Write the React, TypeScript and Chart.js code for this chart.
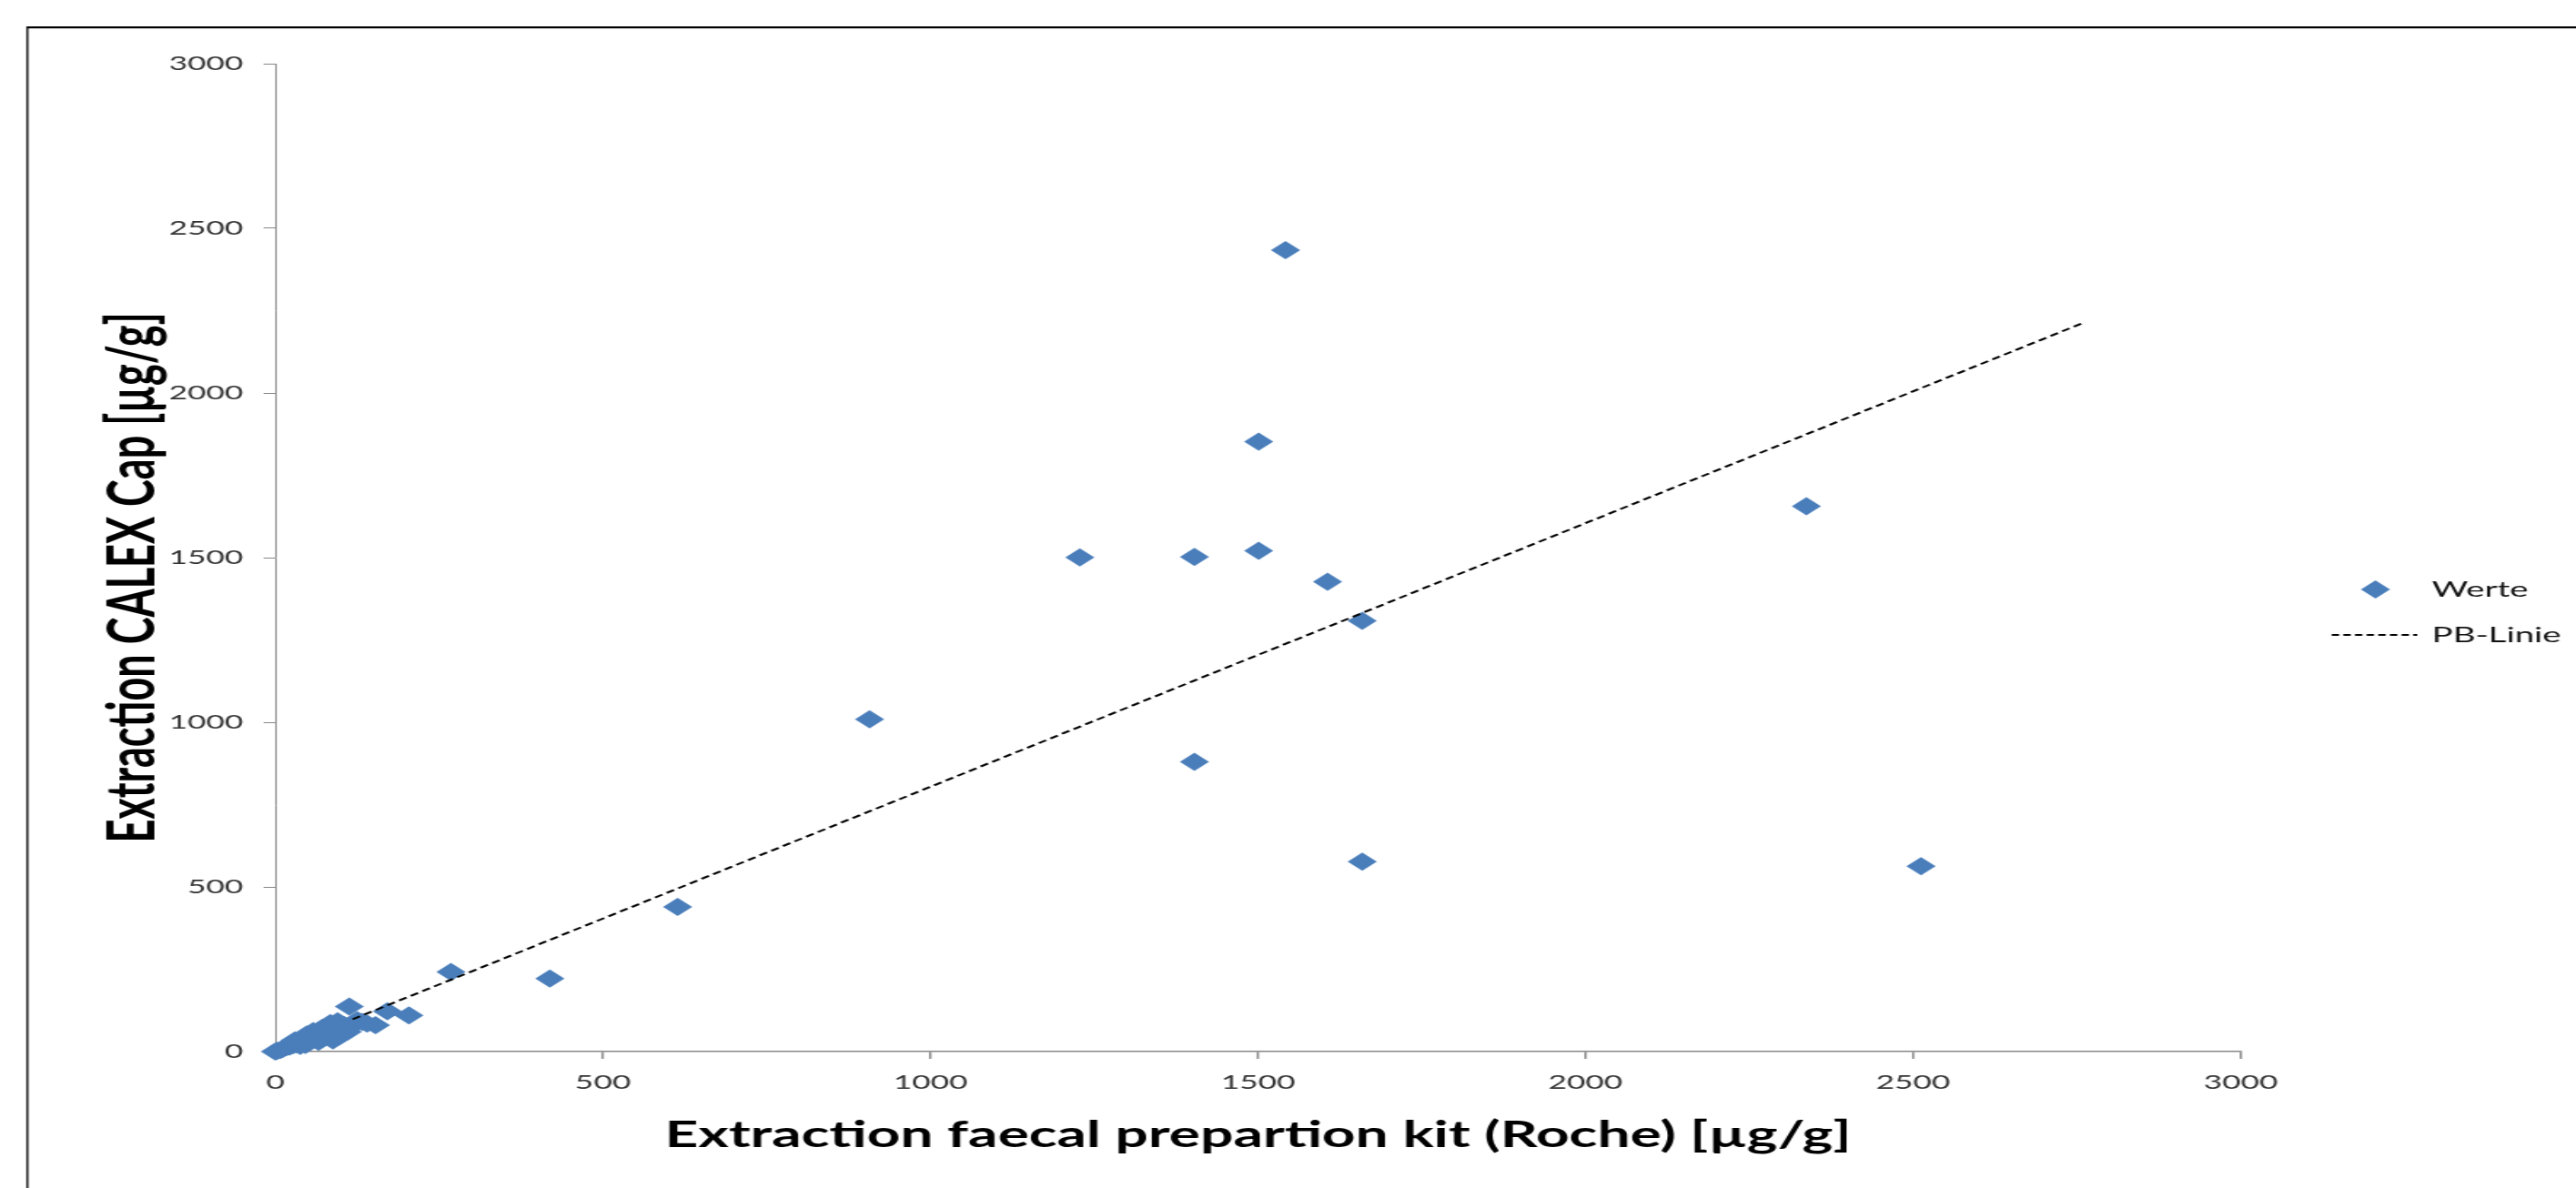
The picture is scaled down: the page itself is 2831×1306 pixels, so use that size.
import React, { useEffect, useRef } from "react";
import { Chart, registerables } from "chart.js";

Chart.register(...registerables);

// ---------- data ----------
const seriesNames = ["Werte", "PB-Linie"];
const xTitle = "Extraction faecal prepartion kit (Roche) [µg/g]";
const yTitle = "Extraction CALEX Cap [µg/g]";
const xTicks = [0, 500, 1000, 1500, 2000, 2500, 3000];
const yTicks = [0, 500, 1000, 1500, 2000, 2500, 3000];

const werteX = [
  1542, 1501, 1501, 1228, 1403, 1606, 1659, 2337, 907, 1403, 1659, 2512, 614, 419, 268,
  0, 3, 8, 12, 17, 22, 27, 32, 38, 40, 45, 50, 55, 60, 65, 70, 74, 78, 80, 85, 88, 90,
  95, 100, 105, 110, 113, 120, 125, 133, 140, 153, 171, 204,
  30, 48, 46, 66, 72, 98, 58, 84,
];
const werteY = [
  2434, 1852, 1521, 1501, 1502, 1427, 1308, 1656, 1009, 880, 577, 563, 439, 222, 242,
  0, 2, 5, 9, 13, 15, 19, 22, 17, 28, 32, 38, 40, 45, 50, 55, 58, 48, 65, 62, 34, 75,
  92, 70, 80, 60, 137, 82, 95, 90, 85, 80, 122, 110,
  34, 52, 20, 30, 72, 46, 62, 86,
];
const pbX = [118, 2761];
const pbY = [98, 2214];

// ---------- layout (the reference picture is stretched horizontally) ----------
const VIEW_W = 2831;
const VIEW_H = 1306;
const STRETCH = 1.6;
const W = Math.round(VIEW_W / STRETCH);
const H = VIEW_H;

const BLUE = "#4A7EBB";
const AXIS = "#868686";
const FONT = "Lato, 'Open Sans', sans-serif";

const framePlugin = {
  id: "excelFrame",
  beforeDraw(chart: any) {
    const ctx = chart.ctx;
    ctx.save();
    ctx.fillStyle = "#ffffff";
    ctx.fillRect(0, 0, chart.width, chart.height);
    ctx.fillStyle = "#000000";
    const fx = 30 / STRETCH;
    const fy = 30;
    ctx.fillRect(fx, fy - 1, chart.width - fx, 2.2);
    ctx.fillRect(fx - 0.6, fy - 1, 1.3, chart.height - fy + 1);
    ctx.restore();
  },
};

const yTitlePlugin = {
  id: "excelYTitle",
  afterDraw(chart: any) {
    const ctx = chart.ctx;
    const area = chart.chartArea;
    ctx.save();
    ctx.translate(147 / STRETCH, (area.top + area.bottom) / 2 + 22);
    ctx.rotate(-Math.PI / 2);
    ctx.fillStyle = "#000000";
    ctx.font = `bold 45px ${FONT}`;
    ctx.textAlign = "center";
    ctx.textBaseline = "middle";
    ctx.fillText(yTitle, 0, 0);
    ctx.restore();
  },
};

const legendPlugin = {
  id: "excelLegend",
  afterDraw(chart: any) {
    const ctx = chart.ctx;
    const ds0 = chart.data.datasets[0];
    const ds1 = chart.data.datasets[1];
    const textX = 2672 / STRETCH;
    const y0 = 648;
    const y1 = 698;
    ctx.save();
    // marker
    const cx = 2610 / STRETCH;
    const r = 10;
    ctx.fillStyle = ds0.backgroundColor;
    ctx.beginPath();
    ctx.moveTo(cx, y0 - r);
    ctx.lineTo(cx + r, y0);
    ctx.lineTo(cx, y0 + r);
    ctx.lineTo(cx - r, y0);
    ctx.closePath();
    ctx.fill();
    // line
    ctx.strokeStyle = ds1.borderColor;
    ctx.lineWidth = 2;
    ctx.setLineDash([5, 3]);
    ctx.beginPath();
    ctx.moveTo(2562 / STRETCH, y1);
    ctx.lineTo(2656 / STRETCH, y1);
    ctx.stroke();
    ctx.setLineDash([]);
    // text
    ctx.fillStyle = "#111111";
    ctx.font = `24px ${FONT}`;
    ctx.textBaseline = "middle";
    ctx.textAlign = "left";
    ctx.fillText(ds0.label, textX, y0);
    ctx.fillText(ds1.label, textX, y1);
    ctx.restore();
  },
};

export default function App() {
  const canvasRef = useRef<HTMLCanvasElement | null>(null);

  useEffect(() => {
    const canvas = canvasRef.current;
    if (!canvas) return;
    const chart = new Chart(canvas, {
      type: "scatter",
      data: {
        datasets: [
          {
            type: "scatter",
            label: seriesNames[0],
            data: werteX.map((x, i) => ({ x, y: werteY[i] })),
            pointStyle: "rectRot",
            pointRadius: 10,
            pointHoverRadius: 10,
            backgroundColor: BLUE,
            borderColor: BLUE,
            borderWidth: 0,
            clip: false,
            order: 1,
          } as any,
          {
            type: "line",
            label: seriesNames[1],
            data: pbX.map((x, i) => ({ x, y: pbY[i] })),
            borderColor: "#000000",
            backgroundColor: "#000000",
            borderWidth: 2,
            borderDash: [6, 3.5],
            pointRadius: 0,
            fill: false,
            showLine: true,
            order: 0,
          } as any,
        ],
      },
      options: {
        animation: false,
        responsive: false,
        maintainAspectRatio: false,
        devicePixelRatio: 1,
        layout: { padding: { left: 0, right: W - 2462 / STRETCH, top: 70, bottom: 0 } },
        plugins: {
          legend: { display: false },
          tooltip: { enabled: false },
        },
        scales: {
          x: {
            type: "linear",
            min: 0,
            max: 3000,
            afterBuildTicks: (s: any) => {
              s.ticks = xTicks.map((v) => ({ value: v }));
            },
            afterFit: (s: any) => {
              s.height = H - 1156;
            },
            ticks: {
              callback: (v: any) => String(v),
              color: "#333333",
              font: { family: FONT, size: 22 },
              padding: 13,
              maxRotation: 0,
            },
            grid: {
              display: true,
              drawOnChartArea: false,
              drawTicks: true,
              tickLength: 8,
              color: AXIS,
              lineWidth: 1.5,
            },
            border: { display: true, color: AXIS, width: 1.5 },
            title: {
              display: true,
              text: xTitle,
              color: "#000000",
              font: { family: FONT, size: 40, weight: "bold" },
              padding: { top: 0, bottom: 34 },
            },
          },
          y: {
            type: "linear",
            min: 0,
            max: 3000,
            afterBuildTicks: (s: any) => {
              s.ticks = yTicks.map((v) => ({ value: v }));
            },
            afterFit: (s: any) => {
              s.width = 302.5 / STRETCH;
            },
            ticks: {
              callback: (v: any) => String(v),
              color: "#333333",
              font: { family: FONT, size: 22 },
              padding: 14,
            },
            grid: {
              display: true,
              drawOnChartArea: false,
              drawTicks: true,
              tickLength: 8,
              color: AXIS,
              lineWidth: 1,
            },
            border: { display: true, color: AXIS, width: 1 },
            title: { display: false, text: yTitle },
          },
        },
      },
      plugins: [framePlugin, yTitlePlugin, legendPlugin],
    });
    return () => chart.destroy();
  }, []);

  return (
    <div
      style={{
        position: "fixed",
        left: 0,
        top: 0,
        width: VIEW_W + "px",
        height: VIEW_H + "px",
        overflow: "hidden",
        background: "#ffffff",
      }}
    >
      <canvas
        ref={canvasRef}
        width={W}
        height={H}
        style={{ display: "block", width: VIEW_W + "px", height: VIEW_H + "px" }}
      />
    </div>
  );
}
